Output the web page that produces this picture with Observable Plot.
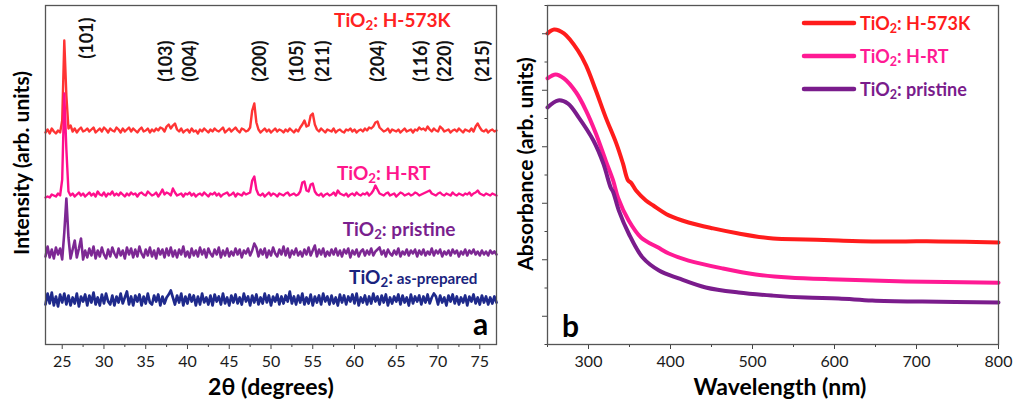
<!DOCTYPE html>
<html><head><meta charset="utf-8">
<script src="https://cdn.jsdelivr.net/npm/d3@7"></script>
<script src="https://cdn.jsdelivr.net/npm/@observablehq/plot@0.6"></script>
<style>
body{margin:0;background:#fff;font-family:Lato,sans-serif}
#wrap{position:relative;width:1014px;height:403px;display:flex;overflow:hidden}
#legend{position:absolute;left:801px;top:6px;font:bold 18px Lato,sans-serif}
#legend .row{display:flex;align-items:center;height:33px}
#legend svg{width:56px;height:8px;margin-right:3px}
#legend sub{font-size:0.7em;vertical-align:-0.25em;line-height:0}
</style></head>
<body><div id="wrap"><div id="legend"></div></div>
<script>
// ---------- Panel a: XRD (2θ grid from 23° in 0.25° steps) ----------
const twoThetaStart = 23, twoThetaStep = 0.25;
const xrdH573K = [
-2,1,-3,2,-1,-3,0,-2,10,90,35,2,5,-1,2,-2,1,3,-1,0,
2,-1,1,3,-2,0,2,-1,3,1,-2,2,0,-1,3,1,-2,2,-1,1,
3,-1,2,0,-2,1,3,-1,0,2,-2,1,-1,2,0,3,2,-1,4,6,
2,5,7,1,-1,2,-2,0,1,-2,2,-1,0,-3,1,-1,2,0,-2,1,
-1,2,0,-1,1,3,-2,0,2,-1,1,3,0,-2,2,1,-1,0,3,20,
27,8,1,-2,0,2,-1,1,-2,0,2,-1,1,0,-2,1,-1,2,0,-2,
1,-1,3,6,10,4,5,15,17,6,1,-1,2,0,-2,1,0,-1,2,-2,
0,1,-1,-2,1,0,2,-1,1,-2,0,1,-1,2,0,3,2,4,8,9,
3,1,-1,0,2,-2,1,0,-1,1,-2,0,2,-1,0,1,-2,1,0,3,
1,2,0,4,1,-1,2,0,-1,4,2,-1,0,1,-2,0,1,-1,2,0,
-2,1,0,-1,2,-1,4,7,3,0,-1,1,-2,0,1,-1,0];
const xrdHRT = [
-3,-2,-3,0,-1,-2,1,-1,15,101,45,3,-1,1,-2,0,2,-1,1,-2,
0,2,-1,1,-2,3,0,-1,2,-2,1,0,3,-1,1,-1,2,0,-2,1,
-1,2,0,1,-2,1,2,0,-1,3,1,-1,0,2,-2,1,5,0,2,1,
-1,6,2,-1,0,1,-2,1,0,2,-1,1,-2,0,1,-1,2,0,-2,1,
0,2,-1,1,-2,0,1,2,-1,0,2,-2,1,0,-1,2,0,1,2,14,
18,5,0,-1,1,-2,0,2,-1,1,0,-2,1,0,-1,1,2,-1,0,1,
-1,0,3,12,13,4,3,10,11,3,0,-1,1,-2,0,1,-1,0,2,-1,
4,1,0,-1,1,-2,0,1,-1,2,0,-1,1,0,2,-1,1,4,9,5,
1,0,-1,1,2,-1,0,1,-2,0,2,1,-1,0,1,-1,0,2,1,-1,
0,1,2,3,4,1,0,-1,1,2,0,-1,1,0,-1,2,0,-1,1,0,
-1,1,0,2,-1,1,2,4,1,0,-1,1,0,-1,1,0,-1];
const xrdPristine = [
-4,6,-5,3,-6,5,-2,4,-7,20,54,15,-6,3,12,-5,4,14,-7,2,
-5,4,-3,6,-6,2,-4,5,-2,-6,3,-4,5,-1,-5,4,-3,2,-6,5,
-2,4,-5,3,-4,6,-1,-5,3,-3,5,-4,2,-6,4,-2,3,-5,4,-3,
5,-4,2,-5,3,-2,6,-4,1,-5,4,-3,2,-4,5,-2,3,-5,4,-1,
-4,3,-2,5,-5,2,-3,4,-4,1,-3,4,-2,3,-5,2,-1,4,-3,2,
9,5,-4,3,-2,4,-5,2,-3,5,-1,-4,3,-2,6,-3,4,-5,2,-2,
4,-3,1,-4,3,-2,5,-3,2,7,-4,3,-2,4,-4,1,-3,3,-2,4,
-3,2,-4,3,-1,4,-5,2,-2,3,-4,1,3,-3,2,-2,4,-3,1,3,
5,-2,2,-4,3,-1,-3,2,-2,4,-4,1,-2,3,-3,2,-1,3,-4,2,
-2,3,-3,1,-2,4,-3,2,-1,3,-4,1,-2,2,-3,3,-1,2,-4,1,
-2,3,-3,2,-1,3,-2,1,-3,2,-2,1,-3,2,-1,1,-2];
const xrdAsPrepared = [
-5,6,-4,7,-6,3,-7,5,-3,6,-5,4,-6,2,-4,6,-7,3,-2,5,
-6,4,-3,7,-5,2,-6,5,-4,6,-2,-5,4,-6,3,-3,6,-4,2,8,
-5,3,-6,4,-2,5,-6,3,-4,6,-3,-5,4,-2,5,-6,3,-4,2,5,
9,2,-5,4,-3,6,-6,3,-4,5,-2,4,-6,3,-5,6,-3,2,-5,4,
-6,5,-2,3,-5,6,-4,2,-6,4,-3,5,-4,2,-5,6,-2,3,-6,4,
-3,5,-5,2,-4,6,-3,4,-6,3,-2,5,-5,3,-4,4,-2,8,-4,3,
-5,4,-3,6,-5,2,-4,5,-6,3,-3,4,-5,6,-2,3,-5,4,-4,2,
-6,5,-3,4,-5,3,-2,5,-4,6,-6,2,-3,4,-5,3,-4,6,-2,3,
-5,4,-3,5,-6,2,-4,3,-2,5,-5,4,-3,2,-6,5,-4,3,-2,4,
-5,3,-3,5,-4,2,6,3,-5,4,-3,2,-6,4,-2,5,-4,3,-5,2,
-3,4,-6,3,-2,5,-4,2,-5,4,-3,3,-5,2,-4,3,-3];
const xrdOffsets = [214, 150, 92, 45];
const xrdNames = ["TiO2: H-573K", "TiO2: H-RT", "TiO2: pristine", "TiO2: as-prepared"];
const xrdColors = ["#ff3434", "#ff0f8c", "#7d2894", "#1f2a8c"];
const xrdWidths = [2.4, 2.4, 2.6, 2.7];
const labelColors = ["#ff2222", "#ff168c", "#7a1f8e", "#1a237e"];
const millerLabels = ["(101)", "(103)", "(004)", "(200)", "(105)", "(211)", "(204)", "(116)", "(220)", "(215)"];
const millerAngles = [28.0, 37.4, 40.3, 48.7, 53.2, 56.2, 62.8, 68.0, 70.9, 75.4];
const xTicksA = [25, 30, 35, 40, 45, 50, 55, 60, 65, 70, 75];
const xMinorA = [27.5, 32.5, 37.5, 42.5, 47.5, 52.5, 57.5, 62.5, 67.5, 72.5];

// ---------- Panel b: absorbance ----------
const wlH573K  = [250,258,270,287,297,309,321,334,342,348,352,358,370,379,398,422,452,483,525,565,605,646,687,727,800];
const absH573K = [1.201,1.215,1.201,1.141,1.088,0.999,0.904,0.811,0.741,0.682,0.672,0.645,0.610,0.592,0.557,0.532,0.511,0.493,0.475,0.472,0.468,0.465,0.465,0.465,0.461];
const wlHRT  = [250,260,270,285,297,309,321,330,336,349,364,385,398,422,464,504,544,605,687,800];
const absHRT = [1.042,1.056,1.042,0.992,0.928,0.847,0.751,0.681,0.620,0.539,0.479,0.443,0.422,0.397,0.369,0.348,0.337,0.330,0.323,0.319];
const wlPristine  = [250,263,275,288,306,318,327,330,337,349,366,386,410,443,483,525,565,605,646,707,800];
const absPristine = [0.939,0.964,0.953,0.904,0.822,0.741,0.656,0.640,0.574,0.493,0.408,0.362,0.334,0.302,0.284,0.273,0.266,0.263,0.256,0.252,0.249];
const absNames = ["TiO2: H-573K", "TiO2: H-RT", "TiO2: pristine"];
const absColors = ["#ff1c1c", "#ff1a94", "#7a1c8c"];
const xTicksB = [300, 400, 500, 600, 700, 800];
const xMinorB = [250, 350, 450, 550, 650, 750];
const yTicksB = [0.2, 0.4, 0.6, 0.8, 1.0, 1.2];
const yMinorB = [0.1, 0.3, 0.5, 0.7, 0.9, 1.1, 1.3];

const font = "Lato, sans-serif";
const baseStyle = {fontFamily: font, fontSize: "16px", color: "#1a1a1a", background: "#fff", overflow: "visible"};
const centered = {textAnchor: "middle", lineAnchor: "middle", fontWeight: "bold", fill: "#000"};

// build XRD rows
const xrdSeries = [xrdH573K, xrdHRT, xrdPristine, xrdAsPrepared];
const xrdRows = xrdSeries.map((vals, k) => vals.map((v, i) => ({
  series: xrdNames[k], angle: twoThetaStart + i * twoThetaStep, intensity: v + xrdOffsets[k]
})));
const millerData = millerLabels.map((l, i) => ({label: l, angle: millerAngles[i]}));
const labelOffsets = [[-46, 15], [-66, 168], [-41, 224], [-19, 272]];

const left = Plot.plot({
  width: 507, height: 403, marginLeft: 45, marginRight: 11, marginTop: 5, marginBottom: 59,
  style: baseStyle,
  x: {domain: [23, 77], label: null},
  y: {domain: [0, 339], axis: null, label: null},
  marks: [
    ...xrdRows.map((rows, k) => Plot.line(rows, {x: "angle", y: "intensity", stroke: xrdColors[k], strokeWidth: xrdWidths[k]})),
    Plot.axisX({ticks: xTicksA, tickSize: 5, tickPadding: 6, label: null, stroke: "#444", fill: "#1a1a1a", fontSize: 16}),
    Plot.axisX({ticks: xMinorA, tickSize: 3, tickFormat: () => "", label: null, stroke: "#444"}),
    Plot.frame({stroke: "#555", strokeWidth: 1.3}),
    Plot.text(millerData.slice(0, 1), {x: "angle", text: "label", frameAnchor: "top", dy: 12, rotate: -90, textAnchor: "end", lineAnchor: "middle", fontWeight: "bold", fontSize: 18, fill: "#111"}),
    Plot.text(millerData.slice(1), {x: "angle", text: "label", frameAnchor: "top", dy: 35, rotate: -90, textAnchor: "end", lineAnchor: "middle", fontWeight: "bold", fontSize: 18, fill: "#111"}),
    ...xrdNames.map((n, k) => Plot.text([n], {text: d => d, frameAnchor: "top-right", dx: labelOffsets[k][0], dy: labelOffsets[k][1], textAnchor: "end", lineAnchor: "middle", fill: labelColors[k], fontWeight: "bold", fontSize: 19})),
    Plot.text(["a"], {...centered, text: d => d, frameAnchor: "bottom-right", dx: -16, dy: -19, fontSize: 30}),
    Plot.text(["2θ (degrees)"], {...centered, text: d => d, frameAnchor: "bottom", dy: 43, fontSize: 23}),
    Plot.text(["Intensity (arb. units)"], {...centered, text: d => d, frameAnchor: "left", dx: -23, dy: -12, rotate: -90, fontSize: 21})
  ]
});

const absSeries = [[wlH573K, absH573K], [wlHRT, absHRT], [wlPristine, absPristine]];
const absRows = absSeries.map(([wl, ab], k) => wl.map((w, i) => ({series: absNames[k], wavelength: w, absorbance: ab[i]})));

const right = Plot.plot({
  width: 507, height: 403, marginLeft: 40, marginRight: 16, marginTop: 5, marginBottom: 59,
  style: baseStyle,
  x: {domain: [250, 800], label: null},
  y: {domain: [0.1, 1.3], label: null},
  marks: [
    ...absRows.map((rows, k) => Plot.line(rows, {x: "wavelength", y: "absorbance", stroke: absColors[k], strokeWidth: 4, curve: "catmull-rom"})),
    Plot.axisX({ticks: xTicksB, tickSize: 5, tickPadding: 6, label: null, stroke: "#444", fill: "#1a1a1a", fontSize: 16}),
    Plot.axisX({ticks: xMinorB, tickSize: 3, tickFormat: () => "", label: null, stroke: "#444"}),
    Plot.axisY({ticks: yTicksB, tickSize: 5, tickFormat: () => "", label: null, stroke: "#444"}),
    Plot.axisY({ticks: yMinorB, tickSize: 2.5, tickFormat: () => "", label: null, stroke: "#444"}),
    Plot.frame({stroke: "#555", strokeWidth: 1.3}),
    Plot.text(["b"], {...centered, text: d => d, frameAnchor: "bottom-left", dx: 23, dy: -17, fontSize: 30}),
    Plot.text(["Wavelength (nm)"], {...centered, text: d => d, frameAnchor: "bottom", dx: 7, dy: 43, fontSize: 23}),
    Plot.text(["Absorbance (arb. units)"], {...centered, text: d => d, frameAnchor: "left", dx: -21, dy: -11, rotate: -90, fontSize: 21})
  ]
});

// remove empty minor-tick labels; subscript "2" in TiO2 labels
function tidy(svg) {
  d3.select(svg).selectAll("text").filter(function () { return this.textContent === ""; }).remove();
  d3.select(svg).selectAll("text").each(function () {
    const t = this.textContent;
    if (!t.startsWith("TiO2")) return;
    const rest = t.slice(4);
    const el = d3.select(this);
    el.text("");
    el.append("tspan").text("TiO");
    el.append("tspan").attr("font-size", "0.7em").attr("baseline-shift", "-22%").text("2");
    if (rest.includes("as-prepared")) {
      el.append("tspan").text(":");
      el.append("tspan").attr("font-size", "0.8em").text(rest.slice(1));
    } else {
      el.append("tspan").text(rest);
    }
  });
}
tidy(left);
tidy(right);

const wrap = document.getElementById("wrap");
wrap.insertBefore(left, wrap.firstChild);
wrap.insertBefore(right, document.getElementById("legend"));

// legend for panel b
const legend = d3.select("#legend");
absNames.forEach((n, k) => {
  const row = legend.append("div").attr("class", "row").style("color", absColors[k]);
  row.append("svg").append("line").attr("x1", 3).attr("x2", 53).attr("y1", 4).attr("y2", 4)
    .attr("stroke", absColors[k]).attr("stroke-width", 4.5).attr("stroke-linecap", "round");
  row.append("span").html("TiO<sub>2</sub>" + n.slice(4));
});
</script>
</body></html>
